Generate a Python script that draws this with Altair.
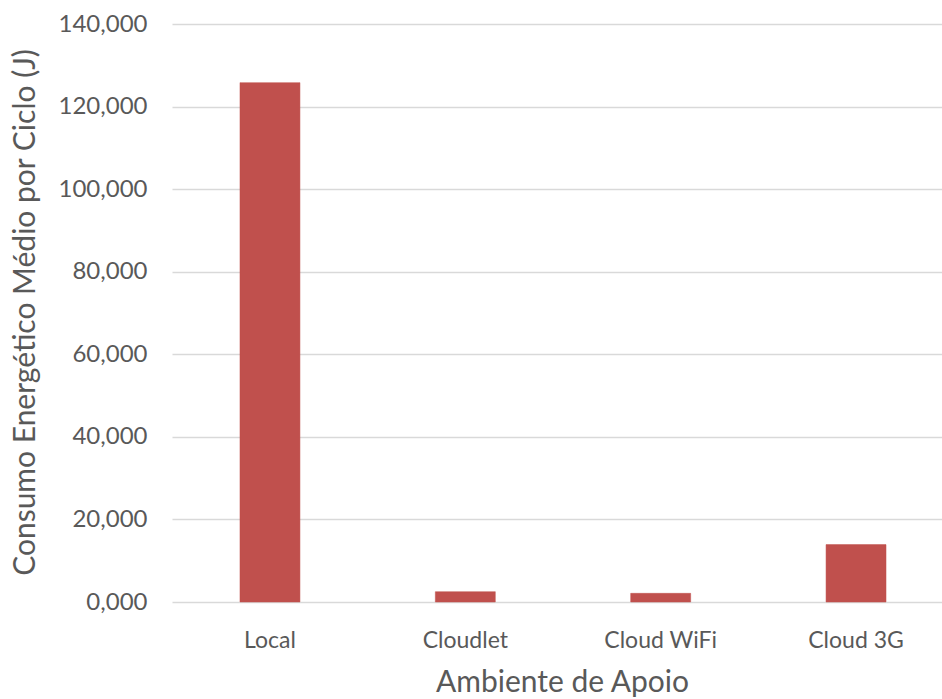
import altair as alt
import pandas as pd

# Average energy consumption per cycle (J) for each support environment
ambientes = ["Local", "Cloudlet", "Cloud WiFi", "Cloud 3G"]
consumo = [125.8, 2.5, 2.1, 13.9]

df = pd.DataFrame({"ambiente": ambientes, "consumo": consumo})

FONT = "Lato"
GREY = "#595959"

chart = (
    alt.Chart(df)
    .mark_bar(color="#c0504d", stroke="#c0504d", strokeWidth=0.5)
    .encode(
        x=alt.X(
            "ambiente:N",
            sort=ambientes,
            scale=alt.Scale(range=[0, 782], paddingInner=0.693, paddingOuter=0.348),
            axis=alt.Axis(
                title="Ambiente de Apoio",
                labelAngle=0,
                labelPadding=27,
                labelFontSize=23,
                labelColor=GREY,
                labelFont=FONT,
                ticks=False,
                domain=False,
                grid=False,
                titleFontSize=30,
                titleFont=FONT,
                titleFontWeight="normal",
                titleColor=GREY,
                titleX=390,
                titleY=80,
                titleBaseline="middle",
            ),
        ),
        y=alt.Y(
            "consumo:Q",
            scale=alt.Scale(domain=[0, 140], nice=False),
            axis=alt.Axis(
                title="Consumo Energético Médio por Ciclo (J)",
                values=[0, 20, 40, 60, 80, 100, 120, 140],
                labelExpr="replace(format(datum.value, '.3f'), '.', ',')",
                labelPadding=25,
                labelFontSize=24,
                labelColor=GREY,
                labelFont=FONT,
                ticks=False,
                domain=False,
                gridColor="#d9d9d9",
                gridWidth=1.5,
                titleFontSize=30,
                titleFont=FONT,
                titleFontWeight="normal",
                titleColor=GREY,
                titleAngle=-90,
                titleX=-147,
                titleY=288,
                titleBaseline="middle",
                titleAlign="center",
            ),
        ),
    )
    .properties(
        width=768,
        height=578,
        background="white",
        autosize=alt.AutoSizeParams(type="none"),
        padding={"left": 172, "top": 24, "right": 2, "bottom": 97},
    )
    .configure_view(stroke=None)
)

chart.save("out.html", embed_options={"renderer": "svg", "actions": False})
